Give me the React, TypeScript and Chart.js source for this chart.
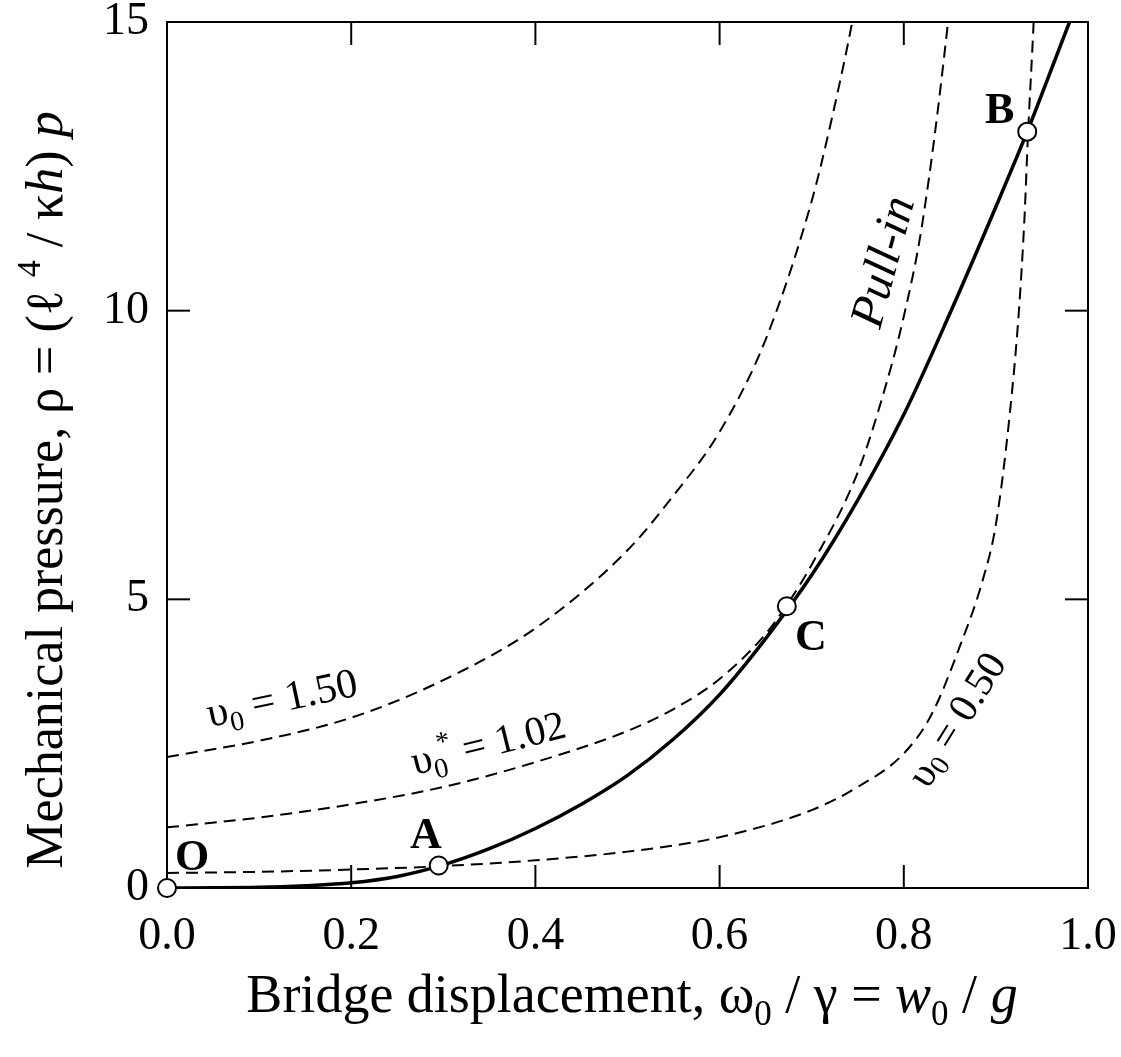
import React, { useEffect, useRef } from 'react';
import { Chart, registerables } from 'chart.js';

Chart.register(...registerables);

// ---- data ----
const xTicks = [0, 0.2, 0.4, 0.6, 0.8, 1.0];
const yTicks = [0, 5, 10, 15];
const xMajorInner = [0.2, 0.4, 0.6, 0.8];
const yMajorInner = [5, 10];

// solid curve (mechanical equilibrium)
const solidX = [0, 0.05, 0.1, 0.15, 0.2, 0.25, 0.3, 0.35, 0.4, 0.45, 0.5, 0.55, 0.6, 0.65, 0.7, 0.75, 0.8, 0.85, 0.9, 0.934, 0.98, 0.99];
const solidY = [0, 0.003, 0.012, 0.04, 0.09, 0.2, 0.4, 0.68, 1.03, 1.45, 1.95, 2.58, 3.35, 4.32, 5.42, 6.72, 8.2, 9.95, 11.8, 13.1, 15, 15.4];

// dashed: υ0 = 1.50
const dash150X = [0, 0.1, 0.2, 0.3, 0.4, 0.5, 0.55, 0.6, 0.65, 0.7, 0.72, 0.744, 0.755];
const dash150Y = [2.27, 2.55, 2.95, 3.6, 4.5, 5.85, 6.8, 7.9, 9.5, 11.9, 13.2, 15, 16];

// dashed: υ0* = 1.02 (pull-in)
const dash102X = [0, 0.1, 0.2, 0.3, 0.4, 0.5, 0.55, 0.6, 0.65, 0.672, 0.7, 0.75, 0.78, 0.8, 0.82, 0.848, 0.86];
const dash102Y = [1.05, 1.22, 1.45, 1.75, 2.18, 2.72, 3.1, 3.62, 4.4, 4.88, 5.6, 7.2, 8.68, 9.9, 11.5, 15, 17];

// dashed: υ0 = 0.50
const dash050X = [0, 0.1, 0.2, 0.3, 0.4, 0.5, 0.6, 0.7, 0.75, 0.8, 0.83, 0.86, 0.886, 0.9, 0.915, 0.925, 0.931, 0.935, 0.941, 0.945];
const dash050Y = [0.26, 0.28, 0.32, 0.38, 0.48, 0.63, 0.88, 1.35, 1.75, 2.33, 3.0, 4.15, 5.35, 6.3, 8.2, 10.0, 11.6, 13.1, 15, 16.5];

// marked points
const pointNames = ['O', 'A', 'C', 'B'];
const pointX = [0, 0.295, 0.673, 0.934];
const pointY = [0, 0.39, 4.88, 13.1];

const FONT = '"Liberation Serif", "DejaVu Serif", "Times New Roman", serif';

type Seg = { t: string; size: number; style?: string; dy?: number; dx?: number };

function drawRich(ctx: CanvasRenderingContext2D, segs: Seg[], x: number, y: number, angle: number, align: 'left' | 'center') {
  ctx.save();
  ctx.translate(x, y);
  ctx.rotate((angle * Math.PI) / 180);
  ctx.textBaseline = 'alphabetic';
  ctx.textAlign = 'left';
  ctx.fillStyle = '#000';
  const fontOf = (s: Seg) => `${s.style || ''} ${s.size}px ${FONT}`;
  const widths: number[] = [];
  let total = 0;
  for (const s of segs) {
    ctx.font = fontOf(s);
    const w = ctx.measureText(s.t).width;
    widths.push(w);
    total += w + (s.dx || 0);
  }
  let cx = align === 'center' ? -total / 2 : 0;
  segs.forEach((s, i) => {
    cx += s.dx || 0;
    ctx.font = fontOf(s);
    ctx.fillText(s.t, cx, s.dy || 0);
    cx += widths[i];
  });
  ctx.restore();
}

const framePlugin = {
  id: 'frame',
  beforeDatasetsDraw(chart: any) {
    const { ctx, chartArea, scales } = chart;
    const { left, right, top, bottom } = chartArea;
    const x = scales.x;
    const y = scales.y;
    ctx.save();
    ctx.strokeStyle = '#000';
    ctx.lineWidth = 2;
    ctx.strokeRect(left, top, right - left, bottom - top);
    const seg = (x1: number, y1: number, x2: number, y2: number) => {
      ctx.beginPath();
      ctx.moveTo(x1, y1);
      ctx.lineTo(x2, y2);
      ctx.stroke();
    };
    const L = 23;
    xMajorInner.forEach((v) => {
      const px = x.getPixelForValue(v);
      seg(px, bottom, px, bottom - L);
      seg(px, top, px, top + L);
    });
    yMajorInner.forEach((v) => {
      const py = y.getPixelForValue(v);
      seg(left, py, left + L, py);
      seg(right, py, right - L, py);
    });
    ctx.restore();
  },
};

const textPlugin = {
  id: 'texts',
  afterDraw(chart: any) {
    const ctx: CanvasRenderingContext2D = chart.ctx;
    // x-axis title
    drawRich(
      ctx,
      [
        { t: 'Bridge displacement, ω', size: 54 },
        { t: '0', size: 35, dy: 13 },
        { t: ' / γ = ', size: 54 },
        { t: 'w', size: 54, style: 'italic' },
        { t: '0', size: 35, dy: 13 },
        { t: ' / ', size: 54 },
        { t: 'g', size: 54, style: 'italic' },
      ],
      632,
      1012,
      0,
      'center'
    );
    // y-axis title
    drawRich(
      ctx,
      [
        { t: 'Mechanical pressure, ρ = (ℓ ', size: 52 },
        { t: '4', size: 34, dy: -22 },
        { t: ' / κ', size: 52 },
        { t: 'h', size: 52, style: 'italic' },
        { t: ') ', size: 52 },
        { t: 'p', size: 52, style: 'italic' },
      ],
      62,
      490,
      -90,
      'center'
    );
    // curve labels
    drawRich(
      ctx,
      [
        { t: 'υ', size: 42 },
        { t: '0', size: 28, dy: 9 },
        { t: ' = 1.50', size: 42 },
      ],
      210,
      727,
      -12,
      'left'
    );
    drawRich(
      ctx,
      [
        { t: 'υ', size: 41 },
        { t: '0', size: 28, dy: 9 },
        { t: '*', size: 28, dy: -17, dx: -6 },
        { t: ' = 1.02', size: 41 },
      ],
      415,
      775,
      -14,
      'left'
    );
    drawRich(
      ctx,
      [
        { t: 'υ', size: 41 },
        { t: '0', size: 28, dy: 6 },
        { t: ' = 0.50', size: 41 },
      ],
      928,
      790,
      -58,
      'left'
    );
    drawRich(ctx, [{ t: 'Pull-in', size: 48, style: 'italic' }], 880, 330, -75, 'left');
    // point letters
    const letterPos: Record<string, [number, number]> = {
      O: [175, 870],
      A: [410, 848],
      C: [795, 650],
      B: [985, 123],
    };
    pointNames.forEach((n) => {
      const p = letterPos[n];
      drawRich(ctx, [{ t: n, size: 44, style: 'bold' }], p[0], p[1], 0, 'left');
    });
  },
};

const toXY = (xs: number[], ys: number[]) => xs.map((x, i) => ({ x, y: ys[i] }));

export default function App() {
  const ref = useRef<HTMLCanvasElement>(null);
  useEffect(() => {
    document.body.style.margin = '0';
    const canvas = ref.current!;
    const dashStyle = {
      borderColor: '#000',
      borderWidth: 2,
      borderDash: [12, 7],
      pointRadius: 0,
      cubicInterpolationMode: 'monotone' as const,
      fill: false,
      order: 2,
    };
    const chart = new Chart(canvas, {
      type: 'line',
      data: {
        datasets: [
          {
            label: 'points',
            data: toXY(pointX, pointY),
            showLine: false,
            pointRadius: 9,
            pointHoverRadius: 9,
            pointBackgroundColor: '#fff',
            pointBorderColor: '#000',
            pointBorderWidth: 2,
            order: 0,
            clip: false as any,
          },
          {
            label: 'equilibrium',
            data: toXY(solidX, solidY),
            borderColor: '#000',
            borderWidth: 3.5,
            pointRadius: 0,
            cubicInterpolationMode: 'monotone',
            fill: false,
            order: 1,
          },
          { label: 'u0=1.50', data: toXY(dash150X, dash150Y), ...dashStyle },
          { label: 'u0*=1.02', data: toXY(dash102X, dash102Y), ...dashStyle },
          { label: 'u0=0.50', data: toXY(dash050X, dash050Y), ...dashStyle },
        ],
      },
      options: {
        responsive: false,
        animation: false,
        devicePixelRatio: 1,
        events: [],
        layout: { padding: { top: 22, right: 33, left: 0, bottom: 0 } },
        plugins: { legend: { display: false }, tooltip: { enabled: false }, title: { display: false } },
        scales: {
          x: {
            type: 'linear',
            min: 0,
            max: 1,
            afterFit: (s: any) => {
              s.height = 169;
              s.paddingLeft = 0;
              s.paddingRight = 0;
            },
            afterBuildTicks: (s: any) => {
              s.ticks = xTicks.map((v) => ({ value: v }));
            },
            ticks: {
              callback: (v: any) => Number(v).toFixed(1),
              font: { family: FONT, size: 46, lineHeight: 1.2 },
              color: '#000',
              padding: 21,
              maxRotation: 0,
              minRotation: 0,
              autoSkip: false,
            },
            grid: { display: false, drawTicks: false, tickLength: 0 },
            border: { display: false },
          },
          y: {
            type: 'linear',
            min: 0,
            max: 15,
            afterFit: (s: any) => {
              s.width = 167;
              s.paddingTop = 0;
              s.paddingBottom = 0;
            },
            afterBuildTicks: (s: any) => {
              s.ticks = yTicks.map((v) => ({ value: v }));
            },
            ticks: {
              callback: (v: any) => String(v),
              font: { family: FONT, size: 46, lineHeight: 1.2 },
              color: '#000',
              padding: 18,
              autoSkip: false,
            },
            grid: { display: false, drawTicks: false, tickLength: 0 },
            border: { display: false },
          },
        },
      },
      plugins: [framePlugin, textPlugin],
    } as any);
    return () => chart.destroy();
  }, []);
  return <canvas ref={ref} width={1121} height={1057} style={{ display: 'block' }} />;
}
